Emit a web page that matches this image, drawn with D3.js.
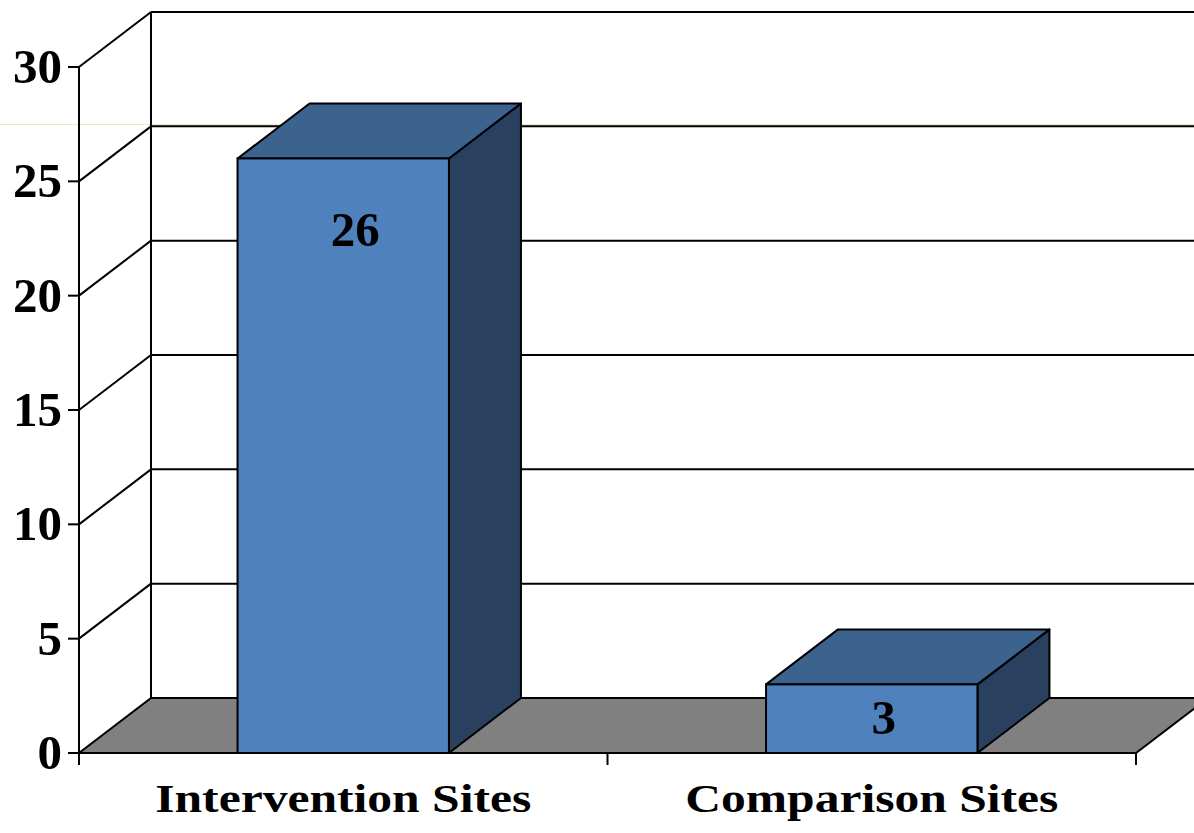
<!DOCTYPE html>
<html>
<head>
<meta charset="utf-8">
<script src="https://cdn.jsdelivr.net/npm/d3@7"></script>
<style>
  html, body { margin: 0; padding: 0; background: #fff; }
  svg { display: block; }
</style>
</head>
<body>
<svg id="chart" width="1194" height="833"></svg>
<script>
const categories = ["Intervention Sites", "Comparison Sites"];
const values = [26, 3];
const valueLabels = ["26", "3"];
const yTicks = [0, 5, 10, 15, 20, 25, 30];

const W = 1194, H = 833;
const svg = d3.select("#chart");
const font = "'Liberation Serif', 'Times New Roman', serif";

const x0 = 79, x1 = 1136;
const dx = 72, dy = -55;
const y = d3.scaleLinear().domain([0, 30]).range([753, 67]);
const x = d3.scaleBand().domain(categories).range([x0, x1])
  .paddingInner(0.6).paddingOuter(0.3);

const colFront = "#4F81BD", colTop = "#3C628E", colSide = "#29405E";
const floorCol = "#808080";

// faint artifact line
svg.append("line").attr("x1", 0).attr("x2", W).attr("y1", 124.5).attr("y2", 124.5)
  .attr("stroke", "#ebe4c6").attr("stroke-width", 1);

// floor
svg.append("path")
  .attr("d", `M${x0},${y(0)} L${x1},${y(0)} L${x1 + dx},${y(0) + dy} L${x0 + dx},${y(0) + dy} Z`)
  .attr("fill", floorCol).attr("stroke", "#000").attr("stroke-width", 2).attr("stroke-linejoin", "miter");

// back wall gridlines (including top edge)
yTicks.forEach(t => {
  svg.append("line")
    .attr("x1", x0 + dx).attr("x2", W + 5)
    .attr("y1", y(t) + dy).attr("y2", y(t) + dy)
    .attr("stroke", "#000").attr("stroke-width", 2);
  if (t > 0) {
    svg.append("line")
      .attr("x1", x0).attr("y1", y(t))
      .attr("x2", x0 + dx).attr("y2", y(t) + dy)
      .attr("stroke", "#000").attr("stroke-width", 2);
  }
});
// back wall left edge
svg.append("line").attr("x1", x0 + dx).attr("x2", x0 + dx)
  .attr("y1", y(30) + dy).attr("y2", y(0) + dy)
  .attr("stroke", "#000").attr("stroke-width", 2);

// bars
const bars = svg.append("g");
categories.forEach((c, i) => {
  const bx = x(c), bw = x.bandwidth();
  const top = y(values[i]), base = y(0);
  const g = bars.append("g");
  g.append("path")
    .attr("d", `M${bx + bw},${base} L${bx + bw + dx},${base + dy} L${bx + bw + dx},${top + dy} L${bx + bw},${top} Z`)
    .attr("fill", colSide).attr("stroke", "#000").attr("stroke-width", 2).attr("stroke-linejoin", "round");
  g.append("path")
    .attr("d", `M${bx},${top} L${bx + dx},${top + dy} L${bx + bw + dx},${top + dy} L${bx + bw},${top} Z`)
    .attr("fill", colTop).attr("stroke", "#000").attr("stroke-width", 2).attr("stroke-linejoin", "round");
  g.append("rect")
    .attr("x", bx).attr("y", top).attr("width", bw).attr("height", base - top)
    .attr("fill", colFront).attr("stroke", "#000").attr("stroke-width", 2);
  const labelY = i === 0 ? top + 88 : (top + base) / 2 + 15;
  g.append("text")
    .attr("x", bx + bw / 2 + 12).attr("y", labelY)
    .attr("text-anchor", "middle")
    .attr("font-family", font).attr("font-weight", "bold").attr("font-size", 49)
    .attr("fill", "#000")
    .text(valueLabels[i]);
});

// front vertical axis
svg.append("line").attr("x1", x0).attr("x2", x0)
  .attr("y1", y(30)).attr("y2", y(0) + 12)
  .attr("stroke", "#000").attr("stroke-width", 2);

// y ticks and labels
yTicks.forEach(t => {
  svg.append("line").attr("x1", x0 - 11).attr("x2", x0)
    .attr("y1", y(t)).attr("y2", y(t))
    .attr("stroke", "#000").attr("stroke-width", 2);
  svg.append("text")
    .attr("x", 62).attr("y", y(t) + 16)
    .attr("text-anchor", "end")
    .attr("font-family", font).attr("font-weight", "bold").attr("font-size", 49)
    .attr("fill", "#000")
    .text(t);
});

// x axis line and ticks
svg.append("line").attr("x1", x0).attr("x2", x1)
  .attr("y1", y(0)).attr("y2", y(0))
  .attr("stroke", "#000").attr("stroke-width", 2);
[x0, (x0 + x1) / 2, x1].forEach(px => {
  svg.append("line").attr("x1", px).attr("x2", px)
    .attr("y1", y(0)).attr("y2", y(0) + 12)
    .attr("stroke", "#000").attr("stroke-width", 2);
});

// category labels
categories.forEach((c, i) => {
  svg.append("text")
    .attr("x", x(c) + x.bandwidth() / 2)
    .attr("y", 812)
    .attr("text-anchor", "middle")
    .attr("font-family", font).attr("font-weight", "bold").attr("font-size", 39)
    .attr("textLength", i === 0 ? 376 : 373)
    .attr("lengthAdjust", "spacingAndGlyphs")
    .attr("fill", "#000")
    .text(c);
});
</script>
</body>
</html>
